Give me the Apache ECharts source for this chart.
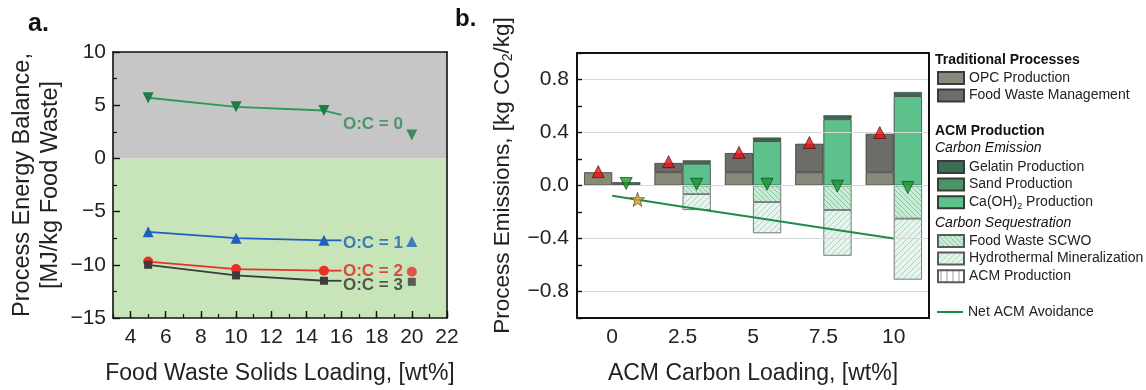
<!DOCTYPE html>
<html><head><meta charset="utf-8">
<script src="https://cdn.jsdelivr.net/npm/echarts@6/dist/echarts.min.js"></script>
<style>html,body{margin:0;padding:0;background:#fff}#c{width:1146px;height:390px}</style>
</head><body><div id="c"></div>
<script>
// ---------- Panel a data ----------
const aLoading = [5, 10, 15];
const aLoadingLast = 20;
const ocNames = ['O:C = 0', 'O:C = 1', 'O:C = 2', 'O:C = 3'];
const oc0 = [5.7, 4.85, 4.5];
const oc1 = [-6.9, -7.5, -7.7];
const oc2 = [-9.7, -10.4, -10.55];
const oc3 = [-10.0, -11.0, -11.5];
const ocLast = [2.2, -7.8, -10.65, -11.6];
const leaderX = 16;
const leaderY = [4.1, -7.7, -10.55, -11.5];
const labelX = 16.05;
const labelY = [3.2, -8.0, -10.6, -11.9];
const aXTicks = [4, 6, 8, 10, 12, 14, 16, 18, 20, 22];

// ---------- Panel b data ----------
const bCategories = ['0', '2.5', '5', '7.5', '10'];
const bLoading = [0, 2.5, 5, 7.5, 10];
const opc = [0.1, 0.1, 0.1, 0.1, 0.1];
const foodWasteMgmt = [null, 0.07, 0.145, 0.215, 0.29];
const caoh2 = [null, 0.165, 0.335, 0.5, 0.675];
const sand = [0.005, 0.005, 0.006, 0.006, 0.006];
const gelatin = [0.02, 0.02, 0.021, 0.024, 0.024];
const scwo = [null, -0.065, -0.125, -0.185, -0.25];
const hydroMin = [null, -0.12, -0.235, -0.345, -0.46];
const tradTotal = [0.105, 0.18, 0.25, 0.325, 0.4];
const acmNet = [0.015, 0.01, 0.01, -0.005, -0.015];
const netAvoid = [-0.078, -0.16, -0.24, -0.32, -0.4];
const starPoint = [0.9, -0.105];
const bYTicks = [-0.8, -0.4, 0, 0.4, 0.8];

function hatch(bg, fg, s, dir, lw) {
  const c = document.createElement('canvas');
  c.width = s; c.height = s;
  const g = c.getContext('2d');
  g.fillStyle = bg; g.fillRect(0, 0, s, s);
  g.strokeStyle = fg; g.lineWidth = lw;
  g.beginPath();
  if (dir === 'back') {
    g.moveTo(0, 0); g.lineTo(s, s);
    g.moveTo(-1, s - 1); g.lineTo(1, s + 1);
    g.moveTo(s - 1, -1); g.lineTo(s + 1, 1);
  } else if (dir === 'fwd') {
    g.moveTo(0, s); g.lineTo(s, 0);
    g.moveTo(-1, 1); g.lineTo(1, -1);
    g.moveTo(s - 1, s + 1); g.lineTo(s + 1, s - 1);
  } else {
    g.moveTo(s / 2, 0); g.lineTo(s / 2, s);
  }
  g.stroke();
  return { image: c, repeat: 'repeat' };
}
const scwoFill = hatch('#c8ecd6', '#86c9a0', 5, 'back', 1);
const hmFill = hatch('#e4f6eb', '#a6d9b9', 6, 'fwd', 1);
const acmFill = hatch('#ffffff', '#9a9a9a', 6, 'vert', 1);

const minus = v => String(v).replace('-', '\u2212');
const ocColors = ['#2a9a5c', '#1f5fbf', '#e8302a', '#3c3c3c'];
const ocLabelColors = ['#2a8a55', '#1f5fb0', '#e02020', '#333333'];
const ocSymbols = ['triangle', 'triangle', 'circle', 'rect'];
const ocRot = [180, 0, 0, 0];
const ocSize = [11, 11, 10, 8];
const ocData = [oc0, oc1, oc2, oc3];

const axisFont = { fontFamily: 'Liberation Sans, Arial', color: '#222' };
const series = [];

// background areas panel a
series.push({
  type: 'line', xAxisIndex: 0, yAxisIndex: 0, data: [], z: 1, silent: true,
  markArea: {
    silent: true,
    data: [
      [{ yAxis: 0, itemStyle: { color: '#c6c6c6' } }, { yAxis: 10 }],
      [{ yAxis: -15, itemStyle: { color: '#c8e5b9' } }, { yAxis: 0 }]
    ]
  }
});
ocData.forEach((arr, i) => {
  series.push({
    name: ocNames[i], type: 'line', xAxisIndex: 0, yAxisIndex: 0, z: 4,
    data: aLoading.map((x, j) => [x, arr[j]]),
    symbol: ocSymbols[i], symbolRotate: ocRot[i], symbolSize: ocSize[i],
    lineStyle: { color: ocColors[i], width: 1.8 },
    itemStyle: { color: i === 0 ? '#1f7a45' : ocColors[i] }
  });
  series.push({
    type: 'line', xAxisIndex: 0, yAxisIndex: 0, z: 4, showSymbol: false, symbol: 'none',
    data: [[aLoading[2], arr[2]], [leaderX, leaderY[i]]],
    lineStyle: { color: ocColors[i], width: 1.8 }
  });
  series.push({
    type: 'scatter', xAxisIndex: 0, yAxisIndex: 0, z: 4,
    data: [[aLoadingLast, ocLast[i]]],
    symbol: ocSymbols[i], symbolRotate: ocRot[i], symbolSize: ocSize[i],
    itemStyle: { color: i === 0 ? '#1f7a45' : ocColors[i] }
  });
});
series.push({
  type: 'scatter', xAxisIndex: 0, yAxisIndex: 0, z: 5, symbolSize: 1,
  itemStyle: { color: 'rgba(0,0,0,0)' },
  label: { show: true, position: 'right', distance: 0, formatter: '{b}', fontSize: 17, fontWeight: 'bold', fontFamily: 'Liberation Sans, Arial' },
  data: labelY.map((y, i) => ({ name: ocNames[i], value: [labelX, y], label: { color: ocLabelColors[i] } }))
});

// panel b gridlines
series.push({
  type: 'line', xAxisIndex: 4, yAxisIndex: 2, data: [], z: 0, silent: true,
  markLine: {
    silent: true, symbol: ['none', 'none'], label: { show: false },
    lineStyle: { color: '#d6d6d6', width: 1, type: 'solid' },
    data: bYTicks.map(v => ({ yAxis: v }))
  }
});
const barBase = { type: 'bar', xAxisIndex: 3, yAxisIndex: 2, barCategoryGap: '20%', barGap: '0%', z: 2 };
series.push(Object.assign({}, barBase, { name: 'OPC Production', stack: 'trad', data: opc,
  itemStyle: { color: '#878a78', borderColor: '#3a3a3a', borderWidth: 0.8 } }));
series.push(Object.assign({}, barBase, { name: 'Food Waste Management', stack: 'trad', data: foodWasteMgmt,
  itemStyle: { color: '#6c6c68', borderColor: '#3a3a3a', borderWidth: 0.8 } }));
series.push(Object.assign({}, barBase, { name: 'Ca(OH)2 Production', stack: 'acm', data: caoh2,
  itemStyle: { color: '#5dc18c', borderColor: '#3a3a3a', borderWidth: 0.8 } }));
series.push(Object.assign({}, barBase, { name: 'Sand Production', stack: 'acm', data: sand,
  itemStyle: { color: '#4a9468', borderColor: '#3a3a3a', borderWidth: 0.6 } }));
series.push(Object.assign({}, barBase, { name: 'Gelatin Production', stack: 'acm', data: gelatin,
  itemStyle: { color: '#3a6e52', borderColor: '#3a3a3a', borderWidth: 0.6 } }));
series.push(Object.assign({}, barBase, { name: 'Food Waste SCWO', stack: 'acm', data: scwo,
  itemStyle: { color: scwoFill, borderColor: '#5a5a5a', borderWidth: 0.8 } }));
series.push(Object.assign({}, barBase, { name: 'Hydrothermal Mineralization', stack: 'acm', data: hydroMin,
  itemStyle: { color: hmFill, borderColor: '#5a5a5a', borderWidth: 0.8 } }));
series.push(Object.assign({}, barBase, { name: 'ACM Production', stack: 'acm', data: [],
  itemStyle: { color: acmFill, borderColor: '#5a5a5a', borderWidth: 0.8 } }));
series.push({
  name: 'Net ACM Avoidance', type: 'line', xAxisIndex: 4, yAxisIndex: 2, z: 6,
  data: bLoading.map((x, i) => [x, netAvoid[i]]), symbol: 'none',
  lineStyle: { color: '#1f8a4c', width: 2 }, itemStyle: { color: '#1f8a4c' }
});
series.push({
  type: 'scatter', xAxisIndex: 3, yAxisIndex: 2, z: 7, data: tradTotal,
  symbol: 'triangle', symbolSize: 12, symbolOffset: [-14, 0],
  itemStyle: { color: '#ee1111', borderColor: '#4a0000', borderWidth: 0.8 }
});
series.push({
  type: 'scatter', xAxisIndex: 3, yAxisIndex: 2, z: 7, data: acmNet,
  symbol: 'triangle', symbolRotate: 180, symbolSize: 12, symbolOffset: [14, 0],
  itemStyle: { color: '#17962a', borderColor: '#0a330a', borderWidth: 0.8 }
});
series.push({
  type: 'scatter', xAxisIndex: 4, yAxisIndex: 2, z: 7, data: [starPoint],
  symbol: 'path://M0,-10 L2.35,-3.24 9.51,-3.09 3.8,1.24 5.88,8.09 0,4 -5.88,8.09 -3.8,1.24 -9.51,-3.09 -2.35,-3.24Z',
  symbolSize: 14, itemStyle: { color: '#d6a21e', borderColor: '#333', borderWidth: 0.8 }
});

const border = (extra) => Object.assign({
  axisLine: { show: true, onZero: false, lineStyle: { color: '#111', width: 1.6 } },
  axisTick: { show: false }, axisLabel: { show: false }, splitLine: { show: false }, z: 5
}, extra);

const legendBase = {
  orient: 'vertical', left: 937, padding: 0, itemWidth: 26, itemHeight: 12, itemGap: 3.6, icon: 'rect',
  textStyle: { fontSize: 14, lineHeight: 14, color: '#222', fontFamily: 'Liberation Sans, Arial',
    rich: { sub: { fontSize: 9, padding: [8, 0, 0, 0], fontFamily: 'Liberation Sans, Arial' } } },
  selectedMode: false,
  formatter: n => n === 'Ca(OH)2 Production' ? 'Ca(OH){sub|2} Production' : n
};
const hdr = (text, top, style) => ({ text, left: 935, top, padding: 0,
  textStyle: Object.assign({ fontSize: 14, color: '#111', fontFamily: 'Liberation Sans, Arial' }, style) });

const option = {
  animation: false,
  backgroundColor: '#fff',
  title: [
    { text: 'a.', left: 28, top: 12, padding: 0, textStyle: { fontSize: 25, fontWeight: 'bold', color: '#111', fontFamily: 'Liberation Sans, Arial' } },
    { text: 'b.', left: 455, top: 7, padding: 0, textStyle: { fontSize: 24, fontWeight: 'bold', color: '#111', fontFamily: 'Liberation Sans, Arial' } },
    hdr('Traditional Processes', 53, { fontWeight: 'bold' }),
    hdr('ACM Production', 124, { fontWeight: 'bold' }),
    hdr('Carbon Emission', 141.5, { fontStyle: 'italic', fontWeight: 'normal' }),
    hdr('Carbon Sequestration', 216, { fontStyle: 'italic', fontWeight: 'normal' })
  ],
  legend: [
    Object.assign({}, legendBase, { top: 71, data: ['OPC Production', 'Food Waste Management'] }),
    Object.assign({}, legendBase, { top: 160, data: ['Gelatin Production', 'Sand Production', 'Ca(OH)2 Production'] }),
    Object.assign({}, legendBase, { top: 234, data: ['Food Waste SCWO', 'Hydrothermal Mineralization', 'ACM Production'] }),
    Object.assign({}, legendBase, { top: 305, itemHeight: 2, data: [{ name: 'Net ACM Avoidance', icon: 'rect' }] })
  ],
  grid: [
    { left: 113, right: 699, top: 52, bottom: 67 },
    { left: 577, right: 217, top: 53, bottom: 65 }
  ],
  xAxis: [
    { gridIndex: 0, type: 'value', min: 3, max: 22, position: 'bottom', z: 5,
      name: 'Food Waste Solids Loading, [wt%]', nameLocation: 'middle', nameGap: 44,
      nameTextStyle: Object.assign({ fontSize: 23 }, axisFont),
      axisLine: { onZero: false, lineStyle: { color: '#111', width: 1.6 } },
      axisTick: { inside: true, length: 7, customValues: aXTicks, lineStyle: { color: '#111', width: 1.4 } },
      axisLabel: Object.assign({ customValues: aXTicks, fontSize: 21, margin: 9 }, axisFont),
      splitLine: { show: false } },
    { gridIndex: 0, type: 'value', min: 3, max: 22, interval: 1, position: 'bottom', z: 5,
      axisLine: { show: false, onZero: false }, axisLabel: { show: false }, splitLine: { show: false },
      axisTick: { inside: true, length: 4, lineStyle: { color: '#111', width: 1.2 } } },
    border({ gridIndex: 0, type: 'value', min: 3, max: 22, position: 'top' }),
    { gridIndex: 1, type: 'category', data: bCategories, position: 'bottom', z: 5,
      name: 'ACM Carbon Loading, [wt%]', nameLocation: 'middle', nameGap: 44,
      nameTextStyle: Object.assign({ fontSize: 23 }, axisFont),
      axisLine: { onZero: false, lineStyle: { color: '#111', width: 2 } },
      axisTick: { inside: true, length: 5, lineStyle: { color: '#111', width: 1.4 } },
      axisLabel: Object.assign({ fontSize: 21, margin: 9 }, axisFont),
      splitLine: { show: false } },
    { gridIndex: 1, type: 'value', min: -1.25, max: 11.25, show: false, axisLine: { onZero: false } },
    border({ gridIndex: 1, type: 'value', min: 0, max: 1, position: 'top', axisLine: { show: true, onZero: false, lineStyle: { color: '#111', width: 2 } } })
  ],
  yAxis: [
    { gridIndex: 0, type: 'value', min: -15, max: 10, interval: 5, position: 'left', z: 5,
      name: 'Process Energy Balance,\n[MJ/kg Food Waste]', nameLocation: 'middle', nameGap: 48, nameRotate: 90,
      nameTextStyle: Object.assign({ fontSize: 23.5, lineHeight: 28 }, axisFont),
      axisLine: { onZero: false, lineStyle: { color: '#111', width: 1.6 } },
      axisTick: { inside: true, length: 7, lineStyle: { color: '#111', width: 1.4 } },
      minorTick: { show: true, splitNumber: 2, length: 4, lineStyle: { color: '#111', width: 1.2 } },
      axisLabel: Object.assign({ fontSize: 21, margin: 7, formatter: minus }, axisFont),
      splitLine: { show: false } },
    border({ gridIndex: 0, type: 'value', min: -15, max: 10, position: 'right' }),
    { gridIndex: 1, type: 'value', min: -1, max: 1, interval: 0.2, position: 'left', z: 5,
      name: 'Process Emissions, [kg CO{sub|2}/kg]', nameLocation: 'middle', nameGap: 62, nameRotate: 90,
      nameTextStyle: Object.assign({ fontSize: 22.5, padding: [0, 0, 0, 20], rich: { sub: { fontSize: 14, padding: [10, 0, 0, 0], fontFamily: 'Liberation Sans, Arial', color: '#222' } } }, axisFont),
      axisLine: { onZero: false, lineStyle: { color: '#111', width: 2 } },
      axisTick: { inside: true, length: 5, lineStyle: { color: '#111', width: 1.4 } },
      axisLabel: Object.assign({ customValues: bYTicks, fontSize: 21, margin: 8,
        formatter: v => minus(Number(v).toFixed(1)) }, axisFont),
      splitLine: { show: false } },
    border({ gridIndex: 1, type: 'value', min: -1, max: 1, position: 'right', axisLine: { show: true, onZero: false, lineStyle: { color: '#111', width: 2 } } })
  ],
  series
};
const chart = echarts.init(document.getElementById('c'), null, { renderer: 'canvas' });
chart.setOption(option);
</script>
</body></html>
